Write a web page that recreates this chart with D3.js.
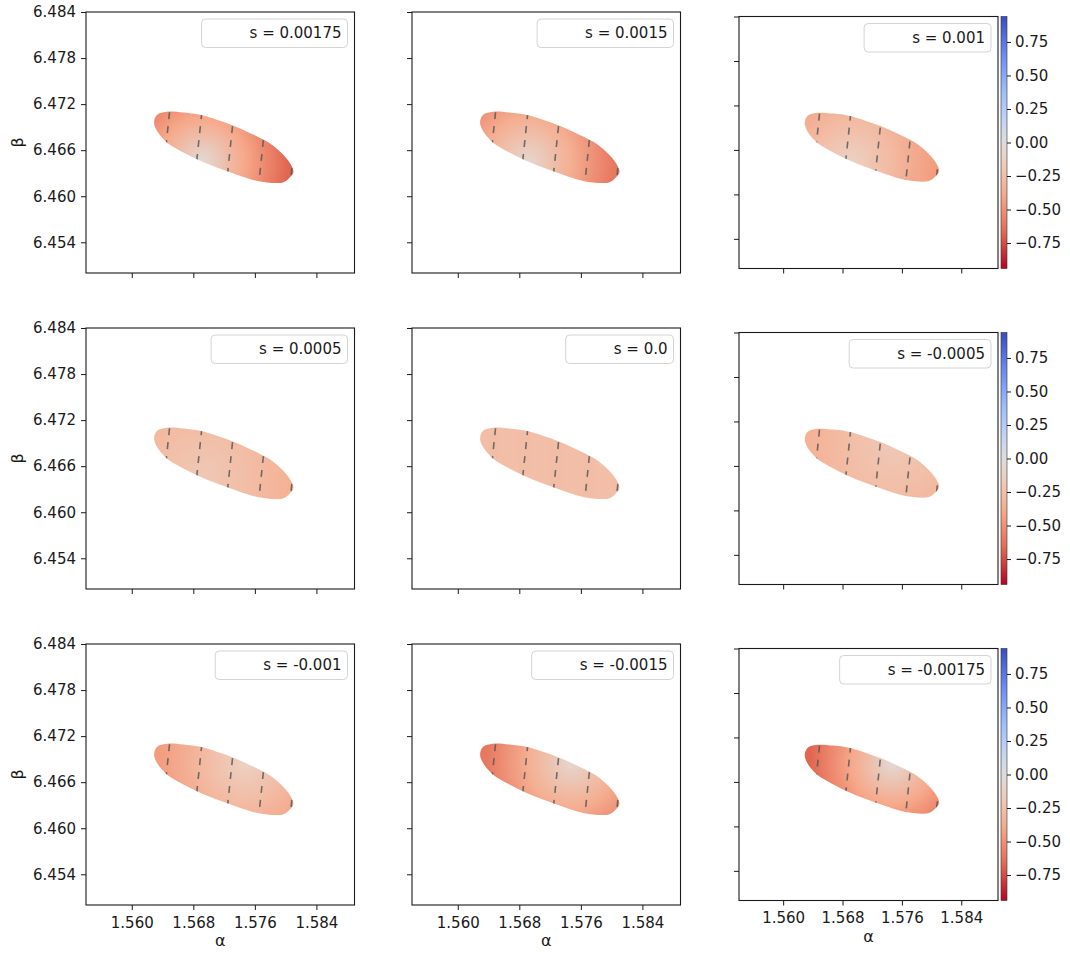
<!DOCTYPE html>
<html>
<head>
<meta charset="utf-8">
<script src="https://cdnjs.cloudflare.com/ajax/libs/d3/7.8.5/d3.min.js"></script>
<style>
  body { margin: 0; background: #fff; }
  svg { display: block; font-family: "DejaVu Sans", sans-serif; }
  .tick text { font-size: 15px; fill: #1a1a1a; }
  .tick line { stroke: #1a1a1a; }
</style>
</head>
<body>
<div id="container"></div>
<script>
// ---- data ----
const sValues = [0.00175, 0.0015, 0.001, 0.0005, 0.0, -0.0005, -0.001, -0.0015, -0.00175];
const sLabels = ["s = 0.00175", "s = 0.0015", "s = 0.001", "s = 0.0005", "s = 0.0",
  "s = -0.0005", "s = -0.001", "s = -0.0015", "s = -0.00175"];

const alphaTicks = [1.560, 1.568, 1.576, 1.584];
const betaTicks = [6.454, 6.460, 6.466, 6.472, 6.478, 6.484];
const colorbarTicks = [-0.75, -0.5, -0.25, 0, 0.25, 0.5, 0.75];

const alphaDomain = [1.55405, 1.58895];
const betaDomain = [6.450, 6.484];
const colorDomain = [-0.94, 0.94];

// outline of the confidence region (alpha, beta), traced clockwise from the left tip
const regionAlpha = [1.56290, 1.56330, 1.56455, 1.56671, 1.56888, 1.57106, 1.57322, 1.57539,
  1.57756, 1.57929, 1.58059, 1.58102, 1.58059, 1.57972, 1.57756, 1.57539, 1.57322, 1.57106,
  1.56888, 1.56671, 1.56455, 1.56325];
const regionBeta = [6.46965, 6.47060, 6.47100, 6.47090, 6.47060, 6.46995, 6.46918, 6.46822,
  6.46712, 6.46580, 6.46427, 6.46317, 6.46250, 6.46183, 6.46180, 6.46222, 6.46295, 6.46373,
  6.46462, 6.46570, 6.46700, 6.46855];

// dashed contour lines (alpha at the top / bottom beta)
const contourBetaTop = 6.4725;
const contourBetaBottom = 6.4605;
const contourAlphaTop = [1.56507, 1.56927, 1.57345, 1.57765, 1.58173];
const contourAlphaBottom = [1.56381, 1.56801, 1.57219, 1.57639, 1.58047];

// colour field: value at the grey spot, halfway out, and far out
const peakAlpha = [1.56914, 1.56914, 1.56914, 1.56914, 1.5720, 1.57474, 1.57474, 1.57474, 1.57474];
const peakBeta = [6.46457, 6.46457, 6.46457, 6.46457, 6.4663, 6.46848, 6.46848, 6.46848, 6.46848];
const peakValue = [-0.04, -0.07, -0.13, -0.19, -0.26, -0.19, -0.13, -0.07, -0.04];
const midValue = [-0.40, -0.36, -0.29, -0.26, -0.26, -0.26, -0.29, -0.36, -0.40];
const edgeValue = [-0.68, -0.61, -0.45, -0.34, -0.26, -0.34, -0.45, -0.61, -0.68];
const fieldRadius = 0.0112; // alpha units

// ---- drawing ----
const w = 1070;
const h = 954;

const svg = d3.select("#container").append("svg")
  .attr("width", w)
  .attr("height", h);
const defs = svg.append("defs");

// coolwarm, reversed so that positive values are blue
const coolwarmStops = [0, 1 / 7, 2 / 7, 3 / 7, 0.5, 4 / 7, 5 / 7, 6 / 7, 1];
const coolwarmColors = ["#3b4cc0", "#6788ee", "#9abbff", "#c9d7f0", "#dddcdc",
  "#edd1c2", "#f7a889", "#e26952", "#b40426"];
const coolwarm = d3.scaleLinear().domain(coolwarmStops).range(coolwarmColors)
  .interpolate(d3.interpolateRgb);
const colorNorm = d3.scaleLinear().domain(colorDomain).range([1, 0]);
const color = v => coolwarm(colorNorm(v));

const fmtMinus = f => v => f(v).replace("-", "\u2212");

sValues.forEach((s, i) => {
  const row = Math.floor(i / 3);
  const col = i % 3;
  const p = col < 2
    ? { x: [86, 412][col], y: 12 + 316 * row, w: 268.5, h: 261 }
    : { x: 739, y: 16.5 + 316 * row, w: 259, h: 252 };

  const g = svg.append("g").attr("transform", `translate(${p.x},${p.y})`);

  const x = d3.scaleLinear().domain(alphaDomain).range([0, p.w]);
  const y = d3.scaleLinear().domain(betaDomain).range([p.h, 0]);

  const region = d3.line()
    .x(d => x(d[0]))
    .y(d => y(d[1]))
    .curve(d3.curveCatmullRomClosed.alpha(0.5))(d3.zip(regionAlpha, regionBeta));

  // radial colour field
  const grad = defs.append("radialGradient")
    .attr("id", `field${i}`)
    .attr("gradientUnits", "userSpaceOnUse")
    .attr("cx", x(peakAlpha[i]))
    .attr("cy", y(peakBeta[i]))
    .attr("r", x(alphaDomain[0] + fieldRadius) - x(alphaDomain[0]));
  [[0, peakValue[i]], [0.5, midValue[i]], [1, edgeValue[i]]].forEach(([o, v]) => {
    grad.append("stop").attr("offset", o).attr("stop-color", color(v));
  });

  defs.append("clipPath").attr("id", `clip${i}`)
    .append("path").attr("d", region);

  g.append("path")
    .attr("d", region)
    .attr("fill", `url(#field${i})`);

  g.append("g")
    .attr("clip-path", `url(#clip${i})`)
    .selectAll("line")
    .data(d3.zip(contourAlphaTop, contourAlphaBottom))
    .enter()
    .append("line")
    .attr("x1", d => x(d[0]))
    .attr("y1", y(contourBetaTop))
    .attr("x2", d => x(d[1]))
    .attr("y2", y(contourBetaBottom))
    .attr("stroke", "#5a5a5a")
    .attr("stroke-width", 1.6)
    .attr("stroke-dasharray", "7,7")
    .attr("stroke-dashoffset", 2)
    .attr("opacity", 0.85);

  // axes
  const xAxis = d3.axisBottom(x).tickValues(alphaTicks).tickSize(5).tickPadding(7)
    .tickFormat(row === 2 ? d3.format(".3f") : () => "");
  g.append("g")
    .attr("transform", `translate(0,${p.h})`)
    .call(xAxis)
    .call(a => a.select(".domain").remove());

  const yAxis = d3.axisLeft(y).tickValues(betaTicks).tickSize(5).tickPadding(5)
    .tickFormat(col === 0 ? d3.format(".3f") : () => "");
  g.append("g")
    .call(yAxis)
    .call(a => a.select(".domain").remove());

  g.selectAll(".tick text").attr("font-family", "DejaVu Sans").attr("font-size", 15);

  g.append("rect")
    .attr("width", p.w)
    .attr("height", p.h)
    .attr("fill", "none")
    .attr("stroke", "#1a1a1a")
    .attr("stroke-width", 1.1);

  // legend
  const leg = g.append("g");
  const legRect = leg.append("rect");
  const legText = leg.append("text")
    .text(sLabels[i])
    .attr("font-size", 15)
    .attr("fill", "#1a1a1a")
    .attr("text-anchor", "end")
    .attr("x", p.w - 13)
    .attr("y", 26);
  const tw = legText.node().getComputedTextLength();
  legRect
    .attr("x", p.w - 7 - (tw + 54))
    .attr("y", 7)
    .attr("width", tw + 54)
    .attr("height", 28.5)
    .attr("rx", 4)
    .attr("fill", "#fff")
    .attr("fill-opacity", 0.8)
    .attr("stroke", "#d4d4d4")
    .attr("stroke-width", 1);

  if (col === 0) {
    g.append("text")
      .text("\u03b2")
      .attr("font-size", 16)
      .attr("fill", "#1a1a1a")
      .attr("text-anchor", "middle")
      .attr("transform", `translate(${23 - p.x},${p.h / 2}) rotate(-90)`);
  }
  if (row === 2) {
    g.append("text")
      .text("\u03b1")
      .attr("font-size", 16)
      .attr("fill", "#1a1a1a")
      .attr("text-anchor", "middle")
      .attr("x", p.w / 2)
      .attr("y", p.h + 41);
  }

  // colorbar next to the right column
  if (col === 2) {
    const cb = svg.append("g").attr("transform", `translate(${p.x + p.w + 3},${p.y})`);
    const cbW = 6;
    const cy = d3.scaleLinear().domain(colorDomain).range([p.h, 0]);
    const cbGrad = defs.append("linearGradient")
      .attr("id", `cbar${row}`)
      .attr("x1", 0).attr("y1", 1).attr("x2", 0).attr("y2", 0);
    d3.range(0, 1.0001, 0.05).forEach(t => {
      const v = colorDomain[0] + t * (colorDomain[1] - colorDomain[0]);
      cbGrad.append("stop").attr("offset", t).attr("stop-color", color(v));
    });
    cb.append("rect")
      .attr("width", cbW)
      .attr("height", p.h)
      .attr("fill", `url(#cbar${row})`)
      .attr("stroke", "#333")
      .attr("stroke-width", 0.6);
    cb.append("g")
      .attr("transform", `translate(${cbW},0)`)
      .call(d3.axisRight(cy).tickValues(colorbarTicks).tickSize(4).tickPadding(4)
        .tickFormat(fmtMinus(d3.format(".2f"))))
      .call(a => a.select(".domain").remove())
      .selectAll(".tick text").attr("font-family", "DejaVu Sans").attr("font-size", 15);
  }
});
</script>
</body>
</html>
